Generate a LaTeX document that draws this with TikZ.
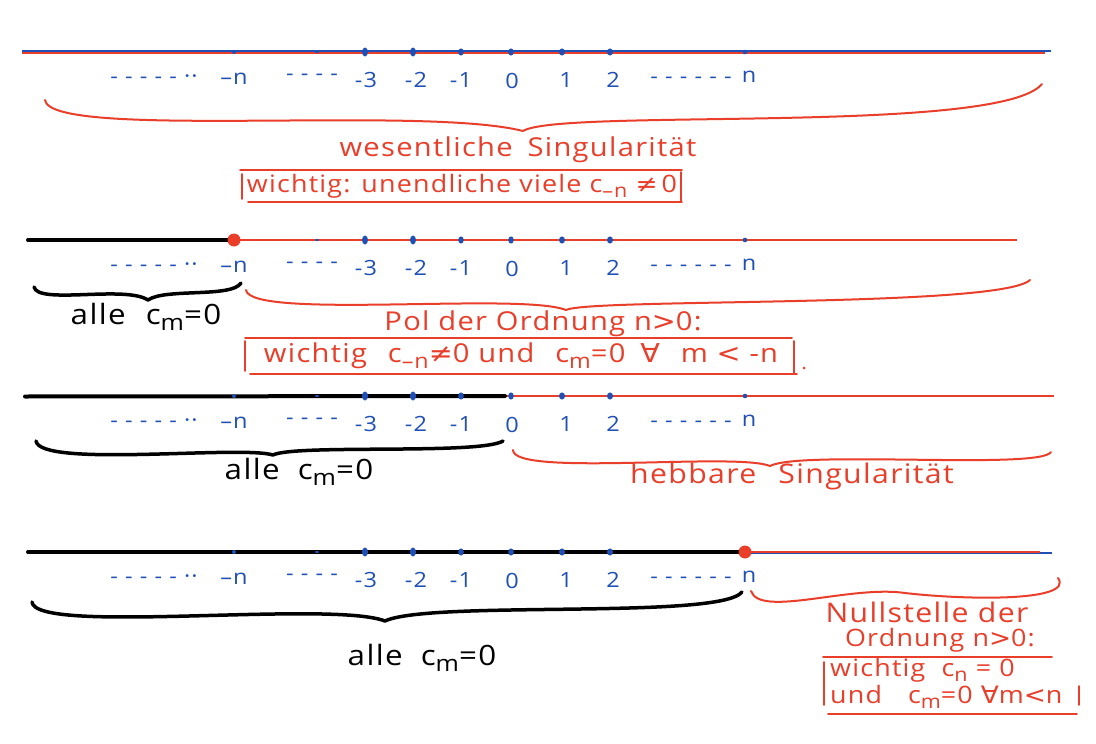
\documentclass[tikz,border=0pt]{standalone}
\usepackage{fontspec}
\setmainfont{Open Sans}[FakeStretch=1.12,LetterSpace=5]
\newfontfamily\sym{DejaVu Sans}[FakeStretch=1.1]
\definecolor{hred}{RGB}{232,62,42}
\definecolor{hblue}{RGB}{32,80,182}
\newcommand\sbs[1]{\raisebox{-0.4ex}{\scalebox{0.8}{#1}}}
\begin{document}
\begin{tikzpicture}[x=1pt,y=-1pt,
  redline/.style={hred,line width=2pt},
  blueline/.style={hblue,line width=2pt},
  blackline/.style={black,line width=4pt,line cap=round},
  lab/.style={text=hblue,font=\fontsize{21}{24}\selectfont,inner sep=0pt},
  note/.style={text=hred,font=\fontsize{26}{30}\selectfont,inner sep=0pt},
  bnote/.style={text=black,font=\fontsize{28}{32}\selectfont,inner sep=0pt},
  rbrace/.style={hred,line width=2pt,line cap=round,line join=round},
  kbrace/.style={black,line width=3.5pt,line cap=round,line join=round},
  boxline/.style={hred,line width=1.8pt,line cap=round},
  reddot/.style={fill=hred}]
\fill[white] (0,0) rectangle (1096,744);
\useasboundingbox (0,0) rectangle (1096,744);

% ---------- lines ----------
% row 1
\draw[blueline] (22,51) -- (1051,51);
\draw[redline] (22,52.5) -- (1045,52.5);
% row 2
\draw[redline] (234,240) -- (1017,240);
\draw[blackline] (28,240) -- (232,240);
% row 3
\draw[redline] (505,396) -- (1054,396);
\draw[blackline] (25,396.5) -- (505,396);
% row 4
\draw[blueline] (745,552.5) -- (1052,552.5);
\draw[redline] (745,552) -- (1040,552);
\draw[blackline] (28,552) -- (743,552);

% ---------- dots and labels ----------
\foreach \y [count=\i] in {52,240,396,552} {
  \fill[hblue] (234,\y) circle (2);
  \fill[hblue] (317,\y) ellipse (2 and 1);
  \fill[hblue] (365,\y) ellipse (3 and 4.5);
  \fill[hblue] (413,\y) ellipse (3 and 4.5);
  \fill[hblue] (461,\y) ellipse (2.8 and 3.6);
  \fill[hblue] (511,\y) ellipse (2.8 and 3.6);
  \fill[hblue] (562,\y) ellipse (3 and 3.6);
  \fill[hblue] (610,\y) ellipse (3 and 3.6);
  \fill[hblue] (745,\y) circle (2.3);
  \node[lab] (da\i) at (154,\y+27) {- - - - - ··};
  \node[lab] (mn\i) at (234,\y+27) {–n};
  \node[lab] (db\i) at (312,\y+25) {- - - -};
  \node[lab] (m3\i) at (366,\y+28) {-3};
  \node[lab] (m2\i) at (416,\y+28) {-2};
  \node[lab] (m1\i) at (461,\y+28) {-1};
  \node[lab] (z\i) at (512,\y+29) {0};
  \node[lab] (p1\i) at (566,\y+28) {1};
  \node[lab] (p2\i) at (613,\y+28) {2};
  \node[lab] (dc\i) at (691,\y+28) {- - - - - -};
  \node[lab] (pn\i) at (749,\y+25) {n};
}
\fill[reddot] (234,240) circle (6.5);
\fill[reddot] (745,552) circle (6.5);

% ---------- row 1 annotations ----------
\draw[rbrace] (45,100) .. controls (50,140) and (420,105) .. (523,131)
  .. controls (560,108) and (1000,135) .. (1042,84);
\node[note] (ws) at (518,150) {wesentliche\hspace{6pt} Singularität};
\node[note,font=\fontsize{24}{28}\selectfont] (w1) at (462,186) {wichtig: unendliche viele c\sbs{–n} {\sym≠}\,0};
\draw[boxline] (240,170) -- (682,170);
\draw[boxline] (248,202) -- (682,202);
\draw[boxline] (242,174) -- (242,199);
\draw[boxline] (681,172) -- (681,202);

% ---------- row 2 annotations ----------
\draw[kbrace] (34,287) .. controls (38,305) and (125,285) .. (148,300)
  .. controls (165,288) and (232,298) .. (241,283);
\node[bnote] (a2) at (146,317) {alle\hspace{20pt}c\sbs{m}=0};
\draw[rbrace] (246,290) .. controls (250,320) and (520,292) .. (566,310)
  .. controls (590,298) and (1000,308) .. (1030,280);
\node[note] (pol) at (543,324) {Pol der Ordnung n{\sym>}0:};
\node[note] (w2) at (521,356) {wichtig\hspace{12pt} c\sbs{–n}{\sym≠}0 und\hspace{12pt} c\sbs{m}=0 \hspace{6pt}{\sym∀}\hspace{12pt} m {\sym<} -n};
\draw[boxline] (245,338) -- (792,338);
\draw[boxline] (250,374) -- (797,374);
\draw[boxline] (245,341) -- (245,371);
\draw[boxline] (794,341) -- (794,373);
\fill[hred] (804,368) circle (1.5);

% ---------- row 3 annotations ----------
\draw[kbrace] (36,441) .. controls (40,468) and (240,445) .. (273,455)
  .. controls (295,444) and (480,455) .. (503,441);
\node[bnote] (a3) at (299,472) {alle\hspace{18pt}c\sbs{m}=0};
\draw[rbrace] (513,450) .. controls (513,477) and (735,452) .. (770,466)
  .. controls (800,450) and (1040,470) .. (1051,452);
\node[note,font=\fontsize{27}{31}\selectfont] (hs) at (792,476) {hebbare\hspace{22pt}Singularität};

% ---------- row 4 annotations ----------
\draw[kbrace] (32,602) .. controls (35,635) and (330,600) .. (385,621)
  .. controls (430,600) and (720,620) .. (742,592);
\node[bnote] (a4) at (422,658) {alle\hspace{18pt}c\sbs{m}=0};
\draw[rbrace] (751,591) .. controls (760,618) and (850,585) .. (905,593)
  .. controls (965,600) and (1075,602) .. (1058,578);
\node[note,font=\fontsize{27}{31}\selectfont] (ns) at (927,612) {Nullstelle der};
\node[note,font=\fontsize{24}{28}\selectfont] (ord) at (940,640) {Ordnung n{\sym>}0:};
\draw[boxline] (823,657) -- (1052,657);
\node[note,anchor=west,font=\fontsize{24}{27}\selectfont] (w4) at (830,670) {wichtig\hspace{8pt} c\sbs{n} = 0};
\node[note,anchor=west,font=\fontsize{24}{27}\selectfont] (u4) at (830,697) {und\hspace{26pt}c\sbs{m}=0\hspace{8pt}{\sym∀}m{\sym<}n};
\draw[boxline] (824,662) -- (824,705);
\draw[boxline] (1079,686) -- (1079,705);
\draw[boxline] (828,714) -- (1077,714);
\end{tikzpicture}
\end{document}
